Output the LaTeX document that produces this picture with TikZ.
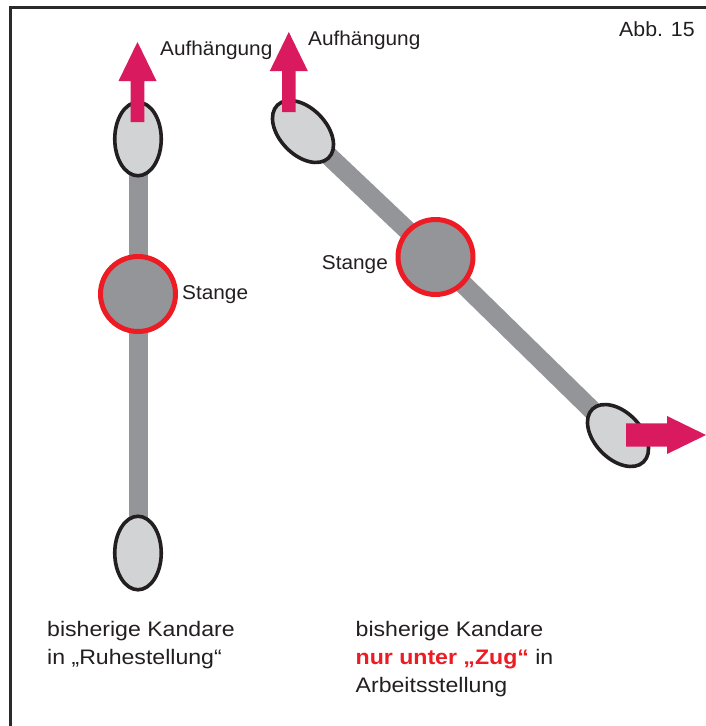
\documentclass[tikz,border=0pt]{standalone}
\usepackage{fontspec}
\setmainfont{Liberation Sans}
\newfontfamily\lblfont[FakeStretch=1.04]{Liberation Sans}
\newfontfamily\capfont[FakeStretch=1.1]{Liberation Sans}
\usetikzlibrary{shapes.geometric}
\definecolor{rodgray}{HTML}{939598}
\definecolor{ringgray}{HTML}{D1D3D4}
\definecolor{inkblack}{HTML}{231F20}
\definecolor{forcemag}{HTML}{DA1A5E}
\definecolor{pivotred}{HTML}{ED1C24}
\definecolor{framegray}{HTML}{2A2A2A}
\pgfdeclarelayer{bg}
\pgfsetlayers{bg,main}
\begin{document}
\begin{tikzpicture}[x=1pt,y=-1pt,
  rod/.style={line width=19pt, draw=rodgray},
  eyelet/.style={ellipse, draw=inkblack, line width=3.6pt, fill=ringgray,
    minimum width=46.5pt, minimum height=73.5pt, inner sep=0pt},
  pivot/.style={circle, draw=pivotred, line width=5pt, fill=rodgray,
    minimum size=75pt, inner sep=0pt},
  force/.style={fill=forcemag},
  lbl/.style={anchor=base west, inner sep=0pt, text=inkblack,
    font=\lblfont\fontsize{20}{24}\selectfont},
  capt/.style={anchor=base west, inner sep=0pt, text=inkblack,
    font=\capfont\fontsize{21}{28}\selectfont},
  frameline/.style={draw=framegray, line width=3pt}]
\useasboundingbox (0,0) rectangle (706,726);

% frame
\coordinate (fbl) at (10,726);
\coordinate (ftl) at (10,7.5);
\coordinate (ftr) at (706,7.5);
\draw[frameline] (fbl) -- (ftl) -- (ftr);

% left bit (rest position)
\node[eyelet] (lt) at (138,139) {};
\node[pivot]  (lp) at (138,294) {};
\node[eyelet] (lb) at (138,553) {};

% right bit (working position)
\node[eyelet, rotate=44] (rt) at (303,131.5) {};
\node[pivot]             (rp) at (435.5,257) {};
\node[eyelet, rotate=44] (rb) at (618,435.5) {};

\begin{pgfonlayer}{bg}
  \draw[rod] (lt.center) -- (lb.center);
  \draw[rod] (rt.center) -- (rp.center) -- (rb.center);
\end{pgfonlayer}

% force arrows
\coordinate (la) at (137.5,122);
\coordinate (ra) at (288.8,112);
\coordinate (ba) at (626,435);
\fill[force, shift={(la)}] (-6.8,0) -- (-6.8,-41) -- (-19,-41) -- (0,-80)
   -- (19,-41) -- (6.8,-41) -- (6.8,0) -- cycle;
\fill[force, shift={(ra)}] (-6.8,0) -- (-6.8,-41) -- (-19,-41) -- (0,-80)
   -- (19,-41) -- (6.8,-41) -- (6.8,0) -- cycle;
\fill[force, shift={(ba)}] (0,-11.7) -- (41,-11.7) -- (41,-19) -- (80,0)
   -- (41,19) -- (41,11.7) -- (0,11.7) -- cycle;

% labels
\node[lbl] (auf1) at (160,55) {Aufhängung};
\node[lbl] (auf2) at (308,45) {Aufhängung};
\node[lbl] (st1) at (182,299) {Stange};
\node[lbl] (st2) at (321.7,269.5) {Stange};
\node[lbl, font=\lblfont\fontsize{20.5}{24}\selectfont] (abb) at (619,36.7) {Abb. 15};

\node[capt] (capl) at (47,636) {\vtop{\baselineskip=28pt
  \hbox{bisherige Kandare}\hbox{in „Ruhestellung“}}};
\node[capt] (capr) at (355.5,636) {\vtop{\baselineskip=28pt
  \hbox{bisherige Kandare}
  \hbox{\textcolor{pivotred}{\bfseries nur unter „Zug“} in}
  \hbox{Arbeitsstellung}}};
\end{tikzpicture}
\end{document}
